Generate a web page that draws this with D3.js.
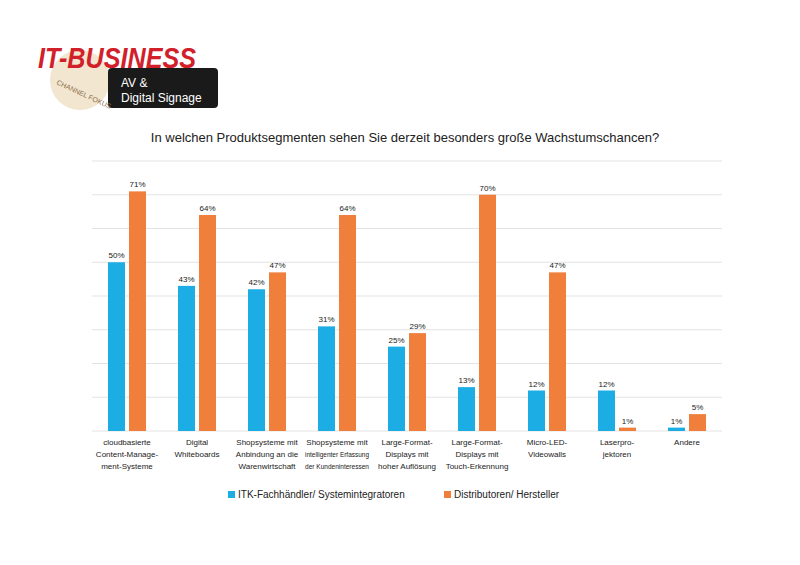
<!DOCTYPE html>
<html><head><meta charset="utf-8">
<script src="https://cdn.jsdelivr.net/npm/d3@7"></script>
<style>body{margin:0;background:#fff}</style></head>
<body><svg width="800" height="565"></svg>
<script>
// Daten
const categories = [
  ["cloudbasierte", "Content-Manage-", "ment-Systeme"],
  ["Digital", "Whiteboards"],
  ["Shopsysteme mit", "Anbindung an die", "Warenwirtschaft"],
  ["Shopsysteme mit", "intelligenter Erfassung", "der Kundeninteressen"],
  ["Large-Format-", "Displays mit", "hoher Auflösung"],
  ["Large-Format-", "Displays mit", "Touch-Erkennung"],
  ["Micro-LED-", "Videowalls"],
  ["Laserpro-", "jektoren"],
  ["Andere"]
];
const itk = [50, 43, 42, 31, 25, 13, 12, 12, 1];
const distri = [71, 64, 47, 64, 29, 70, 47, 1, 5];
const seriesNames = ["ITK-Fachhändler/ Systemintegratoren", "Distributoren/ Hersteller"];
const colors = ["#1cade4", "#f07f3c"];

const svg = d3.select('svg');
const font = 'Liberation Sans, Arial, sans-serif';

// Logo
svg.append('circle').attr('cx', 80).attr('cy', 80).attr('r', 30).attr('fill', '#f3e6d0');
svg.append('rect').attr('x', 108).attr('y', 68).attr('width', 110).attr('height', 40).attr('rx', 4).attr('fill', '#1a1a1a');
svg.append('text').attr('x', 38).attr('y', 68).text('IT-BUSINESS')
  .attr('font-family', font).attr('font-weight', 'bold').attr('font-style', 'italic')
  .attr('font-size', 29).attr('fill', '#d2202b').attr('textLength', 158).attr('lengthAdjust', 'spacingAndGlyphs');
svg.append('text').attr('x', 121).attr('y', 87).text('AV &').attr('font-family', font).attr('font-size', 12).attr('fill', '#fff');
svg.append('text').attr('x', 121).attr('y', 102).text('Digital Signage').attr('font-family', font).attr('font-size', 12).attr('fill', '#fff');
svg.append('text').attr('x', 56).attr('y', 84).text('CHANNEL FOKUS').attr('font-family', font).attr('font-size', 7).attr('fill', '#8a6d4a')
  .attr('transform', 'rotate(25,56,84)');

// Titel
svg.append('text').attr('x', 405).attr('y', 142).attr('text-anchor', 'middle')
  .attr('font-family', font).attr('font-size', 13).attr('fill', '#222')
  .text('In welchen Produktsegmenten sehen Sie derzeit besonders große Wachstumschancen?');

const x = d3.scaleBand().domain(d3.range(categories.length)).range([92, 722]);
const y = d3.scaleLinear().domain([0, 80]).range([431, 161]);

svg.append('g').selectAll('line').data(y.ticks(8)).join('line')
  .attr('x1', 92).attr('x2', 722).attr('y1', d => y(d)).attr('y2', d => y(d))
  .attr('stroke', '#e3e3e3');

const bw = 17;
[itk, distri].forEach((vals, s) => {
  const g = svg.append('g');
  g.selectAll('rect').data(vals).join('rect')
    .attr('x', (d, i) => x(i) + x.bandwidth() / 2 - bw - 2 + s * (bw + 4))
    .attr('y', d => y(d)).attr('width', bw).attr('height', d => y(0) - y(d))
    .attr('fill', colors[s]);
  g.selectAll('text').data(vals).join('text')
    .attr('x', (d, i) => x(i) + x.bandwidth() / 2 - bw / 2 - 2 + s * (bw + 4))
    .attr('y', d => y(d) - 4).attr('text-anchor', 'middle')
    .attr('font-family', font).attr('font-size', 8).attr('fill', '#222')
    .text(d => d + '%');
});

// Kategorien (zu lange Zeilen zusammendrücken)
svg.append('g').selectAll('g').data(categories).join('g')
  .each(function(d, i) {
    d3.select(this).selectAll('text').data(d).join('text')
      .attr('x', x(i) + x.bandwidth() / 2).attr('y', (t, j) => 445 + j * 12)
      .attr('text-anchor', 'middle').attr('font-family', font).attr('font-size', 8).attr('fill', '#222')
      .text(t => t)
      .each(function() {
        if (this.getComputedTextLength() > 64) d3.select(this).attr('textLength', 64).attr('lengthAdjust', 'spacingAndGlyphs');
      });
  });

// Legende
const legX = [228, 444];
seriesNames.forEach((n, s) => {
  svg.append('rect').attr('x', legX[s]).attr('y', 491).attr('width', 7).attr('height', 7).attr('fill', colors[s]);
  svg.append('text').attr('x', legX[s] + 10).attr('y', 498).attr('font-family', font)
    .attr('font-size', 10).attr('fill', '#222').text(n);
});
</script></body></html>
